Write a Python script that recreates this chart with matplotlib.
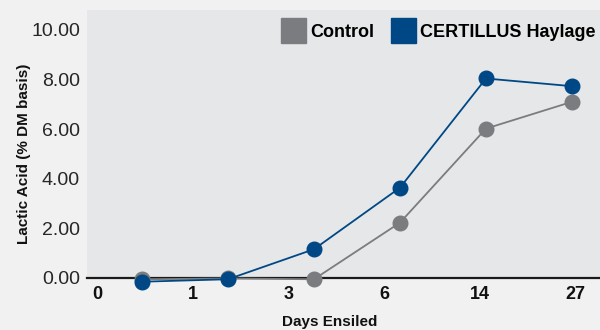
import matplotlib
matplotlib.use("Agg")
import matplotlib.pyplot as plt
from matplotlib.lines import Line2D

plt.rcParams['font.family'] = ['Liberation Sans', 'DejaVu Sans']

days = ["0", "1", "3", "6", "14", "27"]
control = [-0.05, -0.02, -0.05, 2.23, 6.02, 7.10]
certillus = [-0.15, -0.05, 1.16, 3.64, 8.04, 7.73]
y_ticks = [0, 2, 4, 6, 8, 10]
y_tick_labels = ["0.00", "2.00", "4.00", "6.00", "8.00", "10.00"]

c_control = "#7b7c7f"
c_cert = "#004885"

fig = plt.figure(figsize=(6, 3.3), dpi=100)
fig.patch.set_facecolor("#f1f1f1")

W, H = 600, 330
ax = fig.add_axes([87 / W, (H - 278) / H, (600 - 87) / W, (278 - 10) / H])
ax.set_facecolor("#e6e7e8")

xs = list(range(len(days)))
ax.plot(xs, control, color=c_control, lw=1.3, marker="o", ms=10.5, zorder=3, clip_on=False)
ax.plot(xs, certillus, color=c_cert, lw=1.3, marker="o", ms=10.5, zorder=4, clip_on=False)

ax.set_xlim(-0.64, 5.326)
ax.set_ylim(0, 10.8)
ax.set_yticks(y_ticks)
ax.set_yticklabels(y_tick_labels, fontsize=14, color="#262626")
ax.tick_params(axis="y", length=0, pad=5)
ax.set_xticks([])
for s in ["top", "right", "left"]:
    ax.spines[s].set_visible(False)
ax.spines["bottom"].set_color("#1a1a1a")
ax.spines["bottom"].set_linewidth(1.6)
ax.spines["bottom"].set_zorder(2)

# category labels on a twin axis
ax2 = ax.twiny()
ax2.set_xlim(-0.105, 5.26)
ax2.xaxis.set_ticks_position("bottom")
ax2.xaxis.set_label_position("bottom")
ax2.set_xticks(xs)
ax2.set_xticklabels(days, fontsize=13, fontweight="bold", color="#111111")
ax2.tick_params(axis="x", length=0, pad=6)
for s in ax2.spines.values():
    s.set_visible(False)
ax2.set_xlabel("Days Ensiled", fontsize=11, fontweight="bold", color="#111111")
ax2.xaxis.set_label_coords((330 - 87) / 513, -(322 - 278) / 268)
ax2.xaxis.label.set_va("center")

ax.set_ylabel("Lactic Acid (% DM basis)", fontsize=11, fontweight="bold", color="#111111")
ax.yaxis.set_label_coords(-(87 - 24) / 513, (278 - 154) / 268)
ax.yaxis.label.set_va("center")

handles = [
    Line2D([], [], color=c_control, marker="s", ls="none", ms=18),
    Line2D([], [], color=c_cert, marker="s", ls="none", ms=18),
]
ax.legend(handles, ["Control", "CERTILLUS Haylage"], loc="upper right", ncol=2,
          frameon=False, prop={"weight": "bold", "size": 13},
          handlelength=1.0, handletextpad=0.45, columnspacing=1.1,
          borderaxespad=0.0, bbox_to_anchor=(1.005, 0.976))

fig.savefig("out.png", dpi=100, facecolor=fig.get_facecolor())
